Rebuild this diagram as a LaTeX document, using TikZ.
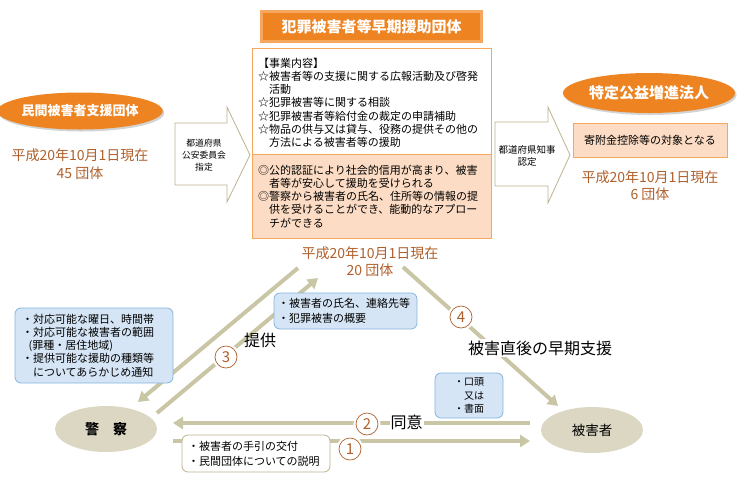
\documentclass[tikz,border=0pt]{standalone}
\usepackage{fontspec}
\setmainfont{Noto Sans CJK JP}
\usetikzlibrary{calc, arrows.meta, shapes.geometric, shadows}

\definecolor{orangeFill}{HTML}{EE8421}
\definecolor{orangeLine}{HTML}{F5A75E}
\definecolor{peach}{HTML}{FCDCC4}
\definecolor{countBrown}{HTML}{B0602C}
\definecolor{blueFill}{HTML}{D5E5F5}
\definecolor{blueLine}{HTML}{84B5E0}
\definecolor{khaki}{HTML}{C9C6A6}
\definecolor{khakiFill}{HTML}{DCD7C3}
\definecolor{arrowLine}{HTML}{BDB38E}

\tikzset{
	titleBox/.style={fill=orangeFill, draw=orangeLine, line width=3pt, text=white,
		minimum width=220pt, minimum height=30pt, font=\bfseries\fontsize{15}{18}\selectfont},
	orgEllipse/.style={ellipse, fill=orangeFill, text=white, inner sep=0pt,
		drop shadow={shadow xshift=1.5pt, shadow yshift=-2pt, opacity=0.35}},
	countText/.style={text=countBrown, align=center, font=\fontsize{14}{17.5}\selectfont},
	worksText/.style={align=left, inner sep=0pt, font=\fontsize{11}{13.3}\selectfont},
	arrowText/.style={align=center, inner sep=0pt, font=\fontsize{8.8}{12}\selectfont},
	designArrow/.style={draw=arrowLine, fill=white, line width=0.8pt},
	infoBox/.style={rounded corners=6pt, draw=blueLine, fill=blueFill, line width=0.8pt,
		align=left, inner ysep=0pt},
	partyEllipse/.style={ellipse, fill=khakiFill, inner sep=0pt,
		minimum width=102pt, minimum height=46pt},
	flow/.style={draw=khaki, line width=4pt, -{Triangle[length=10pt, width=12pt]}},
	stepNum/.style={circle, draw=countBrown, fill=white, text=countBrown, line width=0.7pt,
		minimum size=22pt, inner sep=0pt, font=\fontsize{15}{15}\selectfont,
		preaction={draw=white, line width=5pt}},
	flowLabel/.style={fill=white, inner sep=1.5pt, font=\fontsize{16}{18}\selectfont},
}

\begin{document}
\begin{tikzpicture}[x=1pt, y=-1pt]

	\useasboundingbox (0,0) rectangle (744,483);

	\coordinate (works_nw) at (252,48);
	\coordinate (works_split) at (491,154);
	\coordinate (works_se) at (491,238);

	\coordinate (notify_start) at (298,268);
	\coordinate (notify_end) at (138,402);
	\coordinate (provide_start) at (157,413);
	\coordinate (provide_end) at (318,278);
	\coordinate (support_start) at (403,267);
	\coordinate (support_end) at (558,406);
	\coordinate (consent_start) at (530,423);
	\coordinate (consent_end) at (173,423);
	\coordinate (guide_start) at (173,441);
	\coordinate (guide_end) at (530,441);

	% Early support organisation
	\node[titleBox] (title) at (371.5,26.5) {犯罪被害者等早期援助団体};

	\fill[peach] (works_nw |- works_split) rectangle (works_se);
	\draw[draw=orangeLine, line width=1pt] (works_nw) rectangle (works_se);
	\draw[draw=orangeLine, line width=1pt] (works_nw |- works_split) -- (works_split);

	\node[worksText, anchor=north west] (works_list) at (258,57.5)
		{【事業内容】\\
		☆被害者等の支援に関する広報活動及び啓発\\
		　活動\\
		☆犯罪被害等に関する相談\\
		☆犯罪被害者等給付金の裁定の申請補助\\
		☆物品の供与又は貸与、役務の提供その他の\\
		　方法による被害者等の援助};
	\node[worksText, anchor=north west] (works_merit) at (258,164.5)
		{◎公的認証により社会的信用が高まり、被害\\
		　者等が安心して援助を受けられる\\
		◎警察から被害者の氏名、住所等の情報の提\\
		　供を受けることができ、能動的なアプロー\\
		　チができる};

	\node[countText] (early_count) at (370,261.5) {平成20年10月1日現在\\20 団体};

	% Private support organisation
	\node[orgEllipse, minimum width=154pt, minimum height=37pt,
		font=\bfseries\fontsize{13}{15}\selectfont] (private_org) at (80,111) {民間被害者支援団体};
	\node[countText] (private_count) at (80,164) {平成20年10月1日現在\\45 団体};

	\draw[designArrow] (175,123) -- (227,123) -- (227,107) -- (250,155) --
		(227,202) -- (227,185) -- (175,185) -- cycle;
	\node[arrowText] (pref_commission) at (204,155) {都道府県\\公安委員会\\指定};

	% Specified public interest corporation
	\draw[designArrow] (495,122) -- (548,122) -- (548,107) -- (570,155) --
		(548,203) -- (548,186) -- (495,186) -- cycle;
	\node[arrowText, font=\fontsize{9.5}{12}\selectfont] (pref_governor) at (527,156)
		{都道府県知事\\認定};

	\node[orgEllipse, minimum width=172pt, minimum height=40pt,
		font=\bfseries\fontsize{15}{17}\selectfont] (special_org) at (649,93) {特定公益増進法人};
	\node[draw=orangeLine, fill=peach, line width=1pt, minimum width=154pt, minimum height=34pt,
		font=\fontsize{11}{13}\selectfont] (special_box) at (650,140) {寄附金控除等の対象となる};
	\node[countText] (special_count) at (650,185.5) {平成20年10月1日現在\\6 団体};

	% Police and victim
	\node[partyEllipse, font=\bfseries\fontsize{14}{16}\selectfont] (police) at (106,429) {警　察};
	\node[partyEllipse, font=\fontsize{13.5}{16}\selectfont] (victim) at (592,430) {被害者};

	\draw[flow] (notify_start) -- (notify_end);
	\draw[flow] (provide_start) -- (provide_end);
	\draw[flow] (support_start) -- (support_end);
	\draw[flow] (consent_start) -- (consent_end);
	\draw[flow] (guide_start) -- (guide_end);

	% Boxes on the flows
	\node[infoBox, inner xsep=7pt, text width=144pt, minimum height=75pt,
		font=\fontsize{11}{13.25}\selectfont] (notify_box) at (94,345.5)
		{・対応可能な曜日、時間帯\\
		・対応可能な被害者の範囲\\
		\hspace*{0.6em}(罪種・居住地域)\\
		・提供可能な援助の種類等\\
		\hspace*{1em}についてあらかじめ通知};
	\node[infoBox, inner xsep=4pt, text width=135pt, minimum height=36pt,
		font=\fontsize{11}{15}\selectfont] (provide_box) at (345.5,311)
		{・被害者の氏名、連絡先等\\
		・犯罪被害の概要};
	\node[infoBox, minimum width=68pt, minimum height=45pt,
		font=\fontsize{10}{13.5}\selectfont] (consent_box) at (469,395.5)
		{・口頭\\　又は\\・書面};
	\node[rounded corners=6pt, draw=arrowLine, fill=white, line width=0.8pt, align=left,
		inner xsep=6pt, inner ysep=0pt, text width=136pt, minimum height=37pt,
		font=\fontsize{11}{15}\selectfont] (guide_box) at (256,453.5)
		{・被害者の手引の交付\\
		・民間団体についての説明};

	% Step numbers and labels
	\node[stepNum] (step_one) at (350,449) {1};
	\node[stepNum] (step_two) at (367,424) {2};
	\node[stepNum] (step_three) at (226,357) {3};
	\node[stepNum] (step_four) at (461,317) {4};

	\node[flowLabel, inner sep=1pt] (consent_label) at (406.5,422) {同意};
	\node[font=\fontsize{16}{18}\selectfont] (provide_label) at (260,340) {提供};
	\node[flowLabel] (support_label) at (540,348) {被害直後の早期支援};

\end{tikzpicture}
\end{document}
